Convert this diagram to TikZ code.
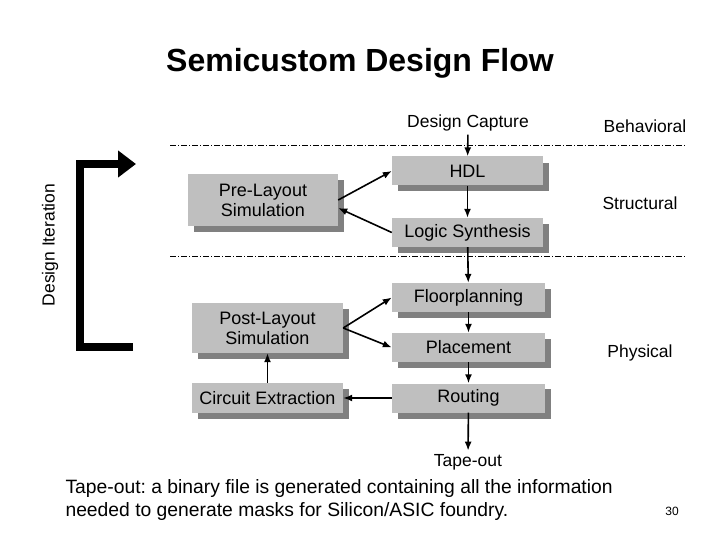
\documentclass[tikz,border=0pt]{standalone}
\usepackage{fontspec}
\setmainfont{Liberation Sans}
\usetikzlibrary{arrows.meta}
\frenchspacing
\begin{document}
\begin{tikzpicture}[
  x=1pt, y=-1pt,
  stage/.style={fill=black!25, minimum height=29pt, align=center, inner sep=0pt,
    font=\fontsize{18}{20}\selectfont},
  link/.style={line width=1.6pt, -{Latex[length=9pt,width=7pt]}},
  level/.style={dash pattern=on 6pt off 2pt on 1pt off 2pt, thin},
  lbl/.style={font=\fontsize{17.5}{20}\selectfont},
]
\useasboundingbox (0,0) rectangle (720,540);

% shadows
\foreach \a/\b/\c/\d in {392/157/543/185, 392/218/543/247, 392/283/545/312,
  392/333/545/362, 392/383/545/413, 188/174/338/226, 192/303/343/353, 192/383/343/413}
  \fill[black!50] (\a+6,\b+6) rectangle (\c+6,\d+6);

\node[stage, minimum width=151pt] (hdl) at (467.5,171) {HDL};
\node[stage, minimum width=151pt] (logic) at (467.5,232.5) {Logic Synthesis};
\node[stage, minimum width=153pt] (floor) at (468.5,297.5) {Floorplanning};
\node[stage, minimum width=153pt] (place) at (468.5,347.5) {Placement};
\node[stage, minimum width=153pt] (route) at (468.5,398) {Routing};
\node[stage, minimum width=150pt, minimum height=52pt] (pre) at (263,200) {Pre-Layout\\Simulation};
\node[stage, minimum width=151pt, minimum height=50pt] (post) at (267.5,328) {Post-Layout\\Simulation};
\node[stage, minimum width=151pt, minimum height=30pt] (extract) at (267.5,398) {Circuit Extraction};

\node[lbl] (capture) at (468,123) {Design Capture};
\node[lbl] (tape) at (468,462) {Tape-out};
\node[lbl] (behav) at (645,126) {Behavioral};
\node[lbl] (struct) at (640,203) {Structural};
\node[lbl] (phys) at (640,353) {Physical};

\node[font=\bfseries\fontsize{32}{36}\selectfont] (title) at (360,63) {Semicustom Design Flow};

\draw[level] (170,145) -- (685,145);
\draw[level] (170,256) -- (685,256);

\draw[link] (capture) -- (hdl);
\draw[link] (hdl) -- (logic);
\draw[link] (logic) -- (floor);
\draw[link] (floor) -- (place);
\draw[link] (place) -- (route);
\draw[link] (route) -- (tape);
\draw[link] (route) -- (extract);
\draw[link] (extract) -- (post);
\draw[link] (pre.east) -- (hdl.west);
\draw[link] (logic.west) -- ([yshift=-8pt]pre.east);
\draw[link] (post.east) -- (floor.west);
\draw[link] (post.east) -- (place.west);

% iteration bracket
\draw[line width=8pt, -{Triangle[length=18pt,width=26pt]}] (133,347) -- (80,347) -- (80,164) -- (136,164);
\node[lbl, rotate=90] (iter) at (50,245) {Design Iteration};

\node[anchor=north west, align=left, font=\fontsize{19.3}{23}\selectfont] (note) at (62,476)
  {Tape-out: a binary file is generated containing all the information\\
   needed to generate masks for Silicon/ASIC foundry.};
\node[font=\fontsize{12}{13}\selectfont] (page) at (672,511) {30};
\end{tikzpicture}
\end{document}
